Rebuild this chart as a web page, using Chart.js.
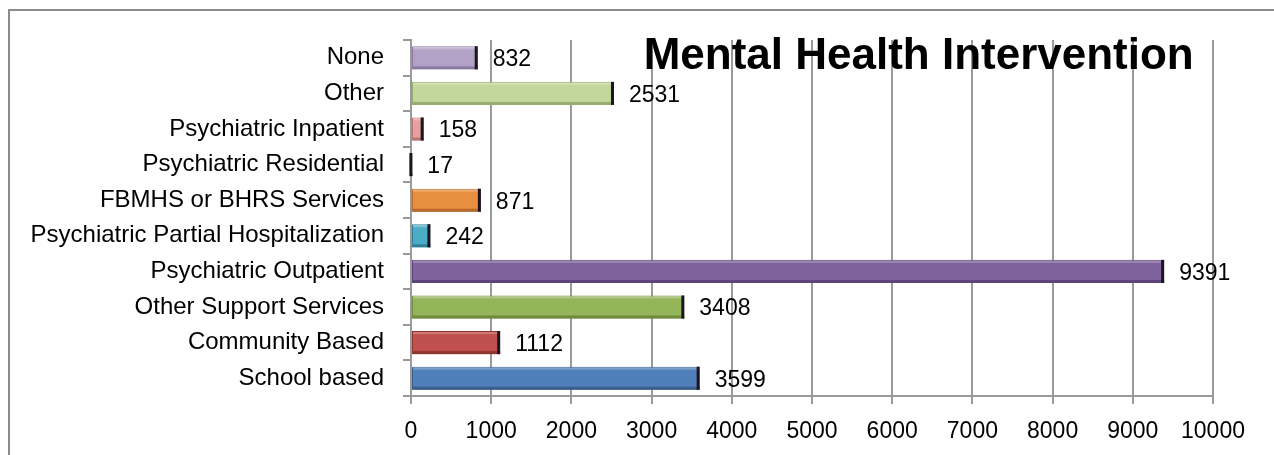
<!DOCTYPE html>
<html>
<head>
<meta charset="utf-8">
<script src="https://cdn.jsdelivr.net/npm/chart.js@4.4.0/dist/chart.umd.min.js"></script>
<style>
  html, body { margin: 0; padding: 0; background: #fff; overflow: hidden; }
  #wrap { position: relative; width: 1274px; height: 455px; }
  #frame { position: absolute; left: 8px; top: 9px; width: 1400px; height: 600px; border: 2px solid #8c8c8c; box-sizing: border-box; }
  #chart { position: absolute; left: 0; top: 0; }
</style>
</head>
<body>
<div id="wrap">
  <div id="frame"></div>
  <canvas id="chart" width="1274" height="455"></canvas>
</div>
<script>
const ctx = document.getElementById("chart");

// data (top to bottom as in the picture)
const categories = [
  "None",
  "Other",
  "Psychiatric Inpatient",
  "Psychiatric Residential",
  "FBMHS or BHRS Services",
  "Psychiatric Partial Hospitalization",
  "Psychiatric Outpatient",
  "Other Support Services",
  "Community Based",
  "School based"
];
const counts = [832, 2531, 158, 17, 871, 242, 9391, 3408, 1112, 3599];
const xTicks = [0, 1000, 2000, 3000, 4000, 5000, 6000, 7000, 8000, 9000, 10000];

const fillColors = ["#b3a2c7", "#c3d69b", "#e6a09e", "#8c8c8c", "#e98f40", "#4bacc6", "#7f619d", "#95b55a", "#bf504d", "#4f7fb8"];
const edgeColors = ["#8a7aa0", "#98ad72", "#b87472", "#555555", "#b8692a", "#2f7f96", "#5a4478", "#6f8c3e", "#8e3532", "#3a5f8c"];
const capColor = "#1c1420";

const FONT = "'Liberation Sans', Arial, sans-serif";

// dark end cap on each bar, like the old excel bevel
const capPlugin = {
  id: "caps",
  afterDatasetsDraw(chart) {
    const c = chart.ctx;
    chart.getDatasetMeta(0).data.forEach((bar, i) => {
      const h = bar.height;
      c.save();
      c.fillStyle = edgeColors[i];
      c.fillRect(bar.base, bar.y + h / 2 - 3, bar.x - bar.base, 3);
      c.fillStyle = "rgba(255,255,255,0.25)";
      c.fillRect(bar.base + 1, bar.y - h / 2 + 1, bar.x - bar.base - 2, 2);
      c.fillStyle = capColor;
      c.fillRect(bar.x - 3, bar.y - h / 2, 3, h);
      c.restore();
    });
  }
};

// value labels to the right of each bar
const labelPlugin = {
  id: "valueLabels",
  afterDatasetsDraw(chart) {
    const c = chart.ctx;
    c.save();
    c.font = "23px " + FONT;
    c.fillStyle = "#000";
    c.textAlign = "left";
    c.textBaseline = "middle";
    chart.getDatasetMeta(0).data.forEach((bar, i) => {
      c.fillText(String(counts[i]), bar.x + 15, bar.y + 2);
    });
    c.restore();
  }
};

// title sits inside the plot, top right
const titlePlugin = {
  id: "innerTitle",
  afterDraw(chart) {
    const c = chart.ctx;
    const xs = chart.scales.x;
    c.save();
    c.font = "bold 44px " + FONT;
    c.fillStyle = "#000";
    c.textAlign = "center";
    c.textBaseline = "middle";
    c.fillText("Mental Health Intervention", xs.getPixelForValue(6330), chart.chartArea.top + 17);
    c.restore();
  }
};

new Chart(ctx, {
  type: "bar",
  data: {
    labels: categories,
    datasets: [{
      data: counts,
      backgroundColor: fillColors,
      borderColor: edgeColors,
      borderWidth: 1,
      borderSkipped: false,
      barPercentage: 0.72,
      categoryPercentage: 0.9,
    }],
  },
  options: {
    indexAxis: "y",
    responsive: false,
    animation: false,
    layout: { padding: { top: 40, right: 61, left: 0, bottom: 0 } },
    plugins: {
      legend: { display: false },
      tooltip: { enabled: false },
      title: { display: false },
    },
    scales: {
      x: {
        min: 0,
        max: 10000,
        afterBuildTicks: (s) => { s.ticks = xTicks.map(v => ({ value: v })); },
        afterFit: (s) => { s.height = 59; },
        grid: { color: "#9a9a9a", lineWidth: 2, tickLength: 8, drawOnChartArea: true },
        border: { color: "#9a9a9a", width: 2 },
        ticks: {
          color: "#000",
          font: { family: FONT, size: 23 },
          padding: 14,
          maxRotation: 0,
          callback: (v) => String(v),
        },
      },
      y: {
        afterFit: (s) => { s.width = 411; },
        grid: { color: "#9a9a9a", lineWidth: 2, tickLength: 8, drawOnChartArea: false, offset: true },
        border: { color: "#9a9a9a", width: 2 },
        ticks: { color: "#000", font: { family: FONT, size: 24 }, padding: 19, autoSkip: false },
      },
    },
  },
  plugins: [capPlugin, labelPlugin, titlePlugin],
});
</script>
</body>
</html>
